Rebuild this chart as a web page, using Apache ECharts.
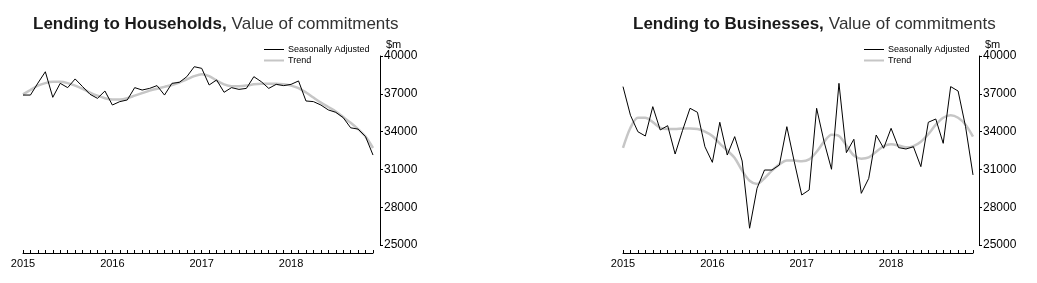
<!DOCTYPE html>
<html><head><meta charset="utf-8">
<script src="https://cdn.jsdelivr.net/npm/echarts@6/dist/echarts.min.js"></script>
<style>html,body{margin:0;padding:0;background:#fff}#c{width:1037px;height:283px}</style>
</head><body><div id="c"></div>
<script>
const categories = [
 '2015-01','2015-02','2015-03','2015-04','2015-05','2015-06','2015-07','2015-08','2015-09','2015-10','2015-11','2015-12',
 '2016-01','2016-02','2016-03','2016-04','2016-05','2016-06','2016-07','2016-08','2016-09','2016-10','2016-11','2016-12',
 '2017-01','2017-02','2017-03','2017-04','2017-05','2017-06','2017-07','2017-08','2017-09','2017-10','2017-11','2017-12',
 '2018-01','2018-02','2018-03','2018-04','2018-05','2018-06','2018-07','2018-08','2018-09','2018-10','2018-11','2018-12'
];
const seriesNames = ['Seasonally Adjusted', 'Trend'];
const titles = [['Lending to Households,', 'Value of commitments'], ['Lending to Businesses,', 'Value of commitments']];
const yTicks = [25000, 28000, 31000, 34000, 37000, 40000];
const yUnit = '$m';

const householdsSA = [
 36900, 36900, 37850, 38750, 36720, 37830, 37490, 38180, 37570, 36960, 36640, 37220,
 36110, 36380, 36510, 37490, 37300, 37430, 37650, 36900, 37830, 37910, 38360, 39150,
 39020, 37700, 38100, 37120, 37490, 37350, 37430, 38360, 37960, 37430, 37750, 37650,
 37750, 38020, 36430, 36380, 36110, 35720, 35530, 35110, 34300, 34200, 33600, 32140
];
const householdsTrend = [
 36950, 37300, 37650, 37850, 37950, 37950, 37850, 37650, 37400, 37100, 36850, 36650,
 36550, 36550, 36650, 36850, 37050, 37250, 37400, 37550, 37700, 37900, 38150, 38400,
 38550, 38400, 38050, 37750, 37600, 37600, 37650, 37750, 37800, 37800, 37800, 37750,
 37650, 37450, 37100, 36700, 36300, 35950, 35600, 35150, 34700, 34200, 33600, 32700
];
const businessesSA = [
 37570, 35300, 33990, 33650, 35980, 34130, 34470, 32220, 34100, 35850, 35530, 32800,
 31560, 34740, 32140, 33600, 31670, 26330, 29500, 30950, 30950, 31350, 34390, 31610,
 28970, 29370, 35850, 33200, 31010, 37830, 32330, 33390, 29100, 30290, 33730, 32680,
 34260, 32730, 32620, 32800, 31220, 34740, 35000, 33070, 37570, 37220, 34390, 30560
];
const businessesTrend = [
 32700, 34300, 35100, 35100, 34750, 34300, 34200, 34200, 34250, 34250, 34200, 34000,
 33650, 33050, 32500, 31900, 30900, 30100, 29850, 30300, 30900, 31400, 31700, 31700,
 31650, 31800, 32400, 33200, 33750, 33650, 32900, 32100, 31850, 31950, 32400, 32850,
 33000, 32900, 32750, 32850, 33200, 33800, 34550, 35100, 35300, 35100, 34550, 33600
];

const panels = [
  { sa: householdsSA, trend: householdsTrend, left: 23, yOffset: 7 },
  { sa: businessesSA, trend: businessesTrend, left: 623, yOffset: 6 }
];
const FONT = '"Liberation Sans", Arial, sans-serif';
const TREND_COLOR = '#c6c6c6';

const option = {
  backgroundColor: '#fff',
  animation: false,
  title: titles.map((t, k) => ({
    text: '{b|' + t[0] + '} {n|' + t[1] + '}',
    left: panels[k].left + 10,
    top: 15,
    padding: 0,
    textStyle: {
      fontWeight: 'normal',
      rich: {
        b: { fontFamily: FONT, fontSize: 17, fontWeight: 'bold', color: '#1a1a1a' },
        n: { fontFamily: FONT, fontSize: 17, fontWeight: 'normal', color: '#333' }
      }
    }
  })),
  legend: panels.map((p, k) => ({
    data: [
      { name: seriesNames[0], itemStyle: { opacity: 0 }, lineStyle: { color: '#000', width: 1 } },
      { name: seriesNames[1], itemStyle: { opacity: 0 }, lineStyle: { color: TREND_COLOR, width: 2 } }
    ],
    orient: 'vertical',
    left: p.left + 240,
    top: 45,
    itemWidth: 20,
    itemHeight: 8,
    itemGap: 2,
    padding: 0,
    textStyle: { fontFamily: FONT, fontSize: 9, color: '#000', lineHeight: 8, padding: [0, 0, 0, -1] }
  })),
  grid: panels.map(p => ({ left: p.left, top: 56, width: 350, height: 189, containLabel: false })),
  xAxis: panels.map((p, k) => ({
    type: 'category',
    gridIndex: k,
    data: categories,
    boundaryGap: false,
    offset: 8,
    axisLine: { lineStyle: { color: '#000', width: 1 } },
    axisTick: { inside: true, length: 3, interval: 0, lineStyle: { color: '#000' } },
    axisLabel: { interval: 11, margin: 5, fontFamily: FONT, fontSize: 11, color: '#000',
      formatter: v => v.slice(0, 4) },
    splitLine: { show: false }
  })),
  yAxis: panels.map((p, k) => ({
    type: 'value',
    gridIndex: k,
    position: 'right',
    offset: p.yOffset,
    min: yTicks[0],
    max: yTicks[yTicks.length - 1],
    interval: yTicks[1] - yTicks[0],
    name: yUnit,
    nameLocation: 'end',
    nameGap: 2,
    nameTextStyle: { fontFamily: FONT, fontSize: 11, color: '#000', align: 'left', verticalAlign: 'bottom', padding: [0, 0, 0, 6] },
    axisLine: { show: true, lineStyle: { color: '#000', width: 1 } },
    axisTick: { show: true, length: 3, lineStyle: { color: '#000' } },
    axisLabel: { margin: 4, fontFamily: FONT, fontSize: 12, color: '#000', formatter: v => String(v) },
    splitLine: { show: false }
  })),
  series: []
};
panels.forEach((p, k) => {
  option.series.push({
    name: seriesNames[1], type: 'line', xAxisIndex: k, yAxisIndex: k, data: p.trend,
    symbol: 'none', smooth: 0.3, lineStyle: { color: TREND_COLOR, width: 2.5 }, itemStyle: { color: TREND_COLOR }
  });
  option.series.push({
    name: seriesNames[0], type: 'line', xAxisIndex: k, yAxisIndex: k, data: p.sa,
    symbol: 'none', lineStyle: { color: '#000', width: 1 }, itemStyle: { color: '#000' }
  });
});
const chart = echarts.init(document.getElementById('c'), null, { renderer: 'canvas' });
chart.setOption(option);
</script>
</body></html>
